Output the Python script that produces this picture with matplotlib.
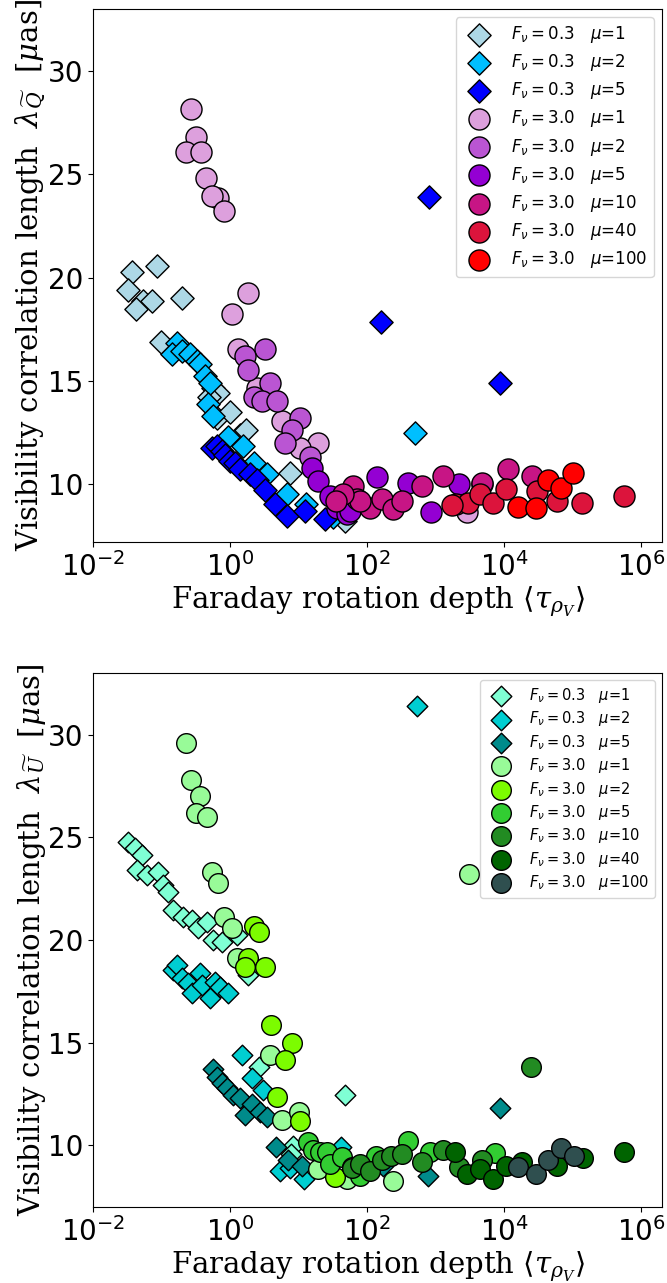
import numpy as np
import matplotlib.pyplot as plt

# --- Configuration ---
OUTPUT_IMAGE = 'out.png'

# --- Top panel data: lambda_Q vs Faraday depth ---
Q_F03_MU1_TAU = [0.037, 0.085, 0.032, 0.054, 0.073, 0.043, 0.2, 0.098, 0.56, 0.67, 0.64, 1.0, 1.4, 0.5, 1.7, 7.5, 48]
Q_F03_MU1_LAM = [20.27, 20.57, 19.4, 18.87, 18.87, 18.5, 19.0, 16.9, 14.66, 14.4, 13.2, 13.5, 12.4, 14.2, 12.6, 10.55, 8.2]

Q_F03_MU2_TAU = [0.17, 0.14, 0.20, 0.26, 0.33, 0.36, 0.43, 0.51, 0.48, 0.56, 0.93, 1.55, 2.2, 3.5, 6.8, 13, 32, 500]
Q_F03_MU2_LAM = [16.84, 16.3, 16.45, 16.3, 15.97, 15.8, 15.24, 14.9, 13.9, 13.3, 12.3, 11.85, 11.0, 10.5, 9.5, 9.05, 8.4, 12.45]

Q_F03_MU5_TAU = [0.55, 0.65, 0.76, 0.85, 1.0, 1.17, 1.4, 1.95, 2.5, 3.2, 4.5, 6.8, 12.4, 24.5, 800, 160, 8700]
Q_F03_MU5_LAM = [11.76, 11.86, 11.6, 11.4, 11.13, 11.0, 10.75, 10.5, 10.2, 9.7, 9.05, 8.47, 8.7, 8.3, 23.9, 17.85, 14.9]

Q_F30_MU1_TAU = [0.27, 0.32, 0.23, 0.38, 0.45, 0.67, 0.55, 0.81, 1.8, 1.07, 1.3, 2.5, 5.7, 19, 10.4, 2900]
Q_F30_MU1_LAM = [28.16, 26.8, 26.1, 26.1, 24.8, 23.86, 23.95, 23.2, 19.26, 18.24, 16.55, 14.66, 13.07, 12.0, 11.76, 8.65]

Q_F30_MU2_TAU = [3.2, 1.66, 1.8, 3.8, 2.2, 2.95, 4.9, 10.5, 8.0, 6.3, 14.8]
Q_F30_MU2_LAM = [16.55, 16.2, 15.5, 14.9, 14.2, 14.0, 14.0, 13.2, 12.6, 12.0, 11.3]

Q_F30_MU5_TAU = [15.8, 19, 29, 36, 51, 141, 400, 2150, 850, 56, 4800]
Q_F30_MU5_LAM = [10.8, 10.17, 9.44, 8.86, 8.57, 10.36, 10.07, 10.0, 8.66, 8.7, 10.0]

Q_F30_MU10_TAU = [63, 71, 110, 165, 240, 79, 325, 630, 1280, 4800, 11500, 25700, 45, 35]
Q_F30_MU10_LAM = [9.9, 9.3, 8.86, 9.3, 8.8, 9.2, 9.2, 9.9, 10.4, 10.07, 10.74, 10.4, 9.5, 9.2]

Q_F30_MU40_TAU = [2000, 3000, 4400, 6900, 10700, 30000, 59000, 138000, 560000, 1700]
Q_F30_MU40_LAM = [9.05, 9.1, 9.5, 9.1, 9.78, 9.68, 9.2, 9.1, 9.44, 9.0]

Q_F30_MU100_TAU = [16000, 29000, 43000, 68000, 100000]
Q_F30_MU100_LAM = [8.9, 8.86, 10.2, 9.8, 10.55]

# --- Bottom panel data: lambda_U vs Faraday depth ---
U_F03_MU1_TAU = [0.032, 0.041, 0.052, 0.044, 0.062, 0.089, 0.105, 0.125, 0.148, 0.205, 0.28, 0.34, 0.46, 0.56,
                 0.76, 1.26, 1.8, 2.6, 48, 8.3, 7.8]
U_F03_MU1_LAM = [24.76, 24.47, 24.13, 23.4, 23.16, 23.3, 22.67, 22.33, 21.45, 21.1, 20.97, 20.6, 20.87, 20.0,
                 19.9, 20.24, 18.3, 13.8, 12.47, 9.95, 9.6]

U_F03_MU2_TAU = [0.148, 0.17, 0.2, 0.245, 0.28, 0.36, 0.39, 0.51, 0.6, 0.71, 0.93, 1.5, 2.1, 3.0, 5.4, 11.8,
                 42, 525, 7.5]
U_F03_MU2_LAM = [18.55, 18.8, 18.15, 17.9, 17.4, 18.4, 17.8, 17.2, 17.96, 17.7, 17.4, 14.42, 13.3, 12.7, 8.74, 8.35,
                 9.9, 31.4, 8.9]

U_F03_MU5_TAU = [0.56, 0.65, 0.76, 0.91, 1.1, 1.4, 1.66, 2.1, 2.75, 3.5, 4.6, 7.1, 11.3, 780, 8700, 170]
U_F03_MU5_LAM = [13.7, 13.35, 13.06, 12.8, 12.47, 12.33, 11.5, 12.0, 11.65, 11.4, 9.9, 9.3, 8.98, 8.5, 11.84, 8.98]

U_F30_MU1_TAU = [0.23, 0.27, 0.36, 0.32, 0.46, 0.55, 0.67, 0.81, 1.07, 1.26, 3.8, 5.7, 10.1, 19, 51, 235, 3100]
U_F30_MU1_LAM = [29.6, 27.8, 27.0, 26.2, 26.0, 23.3, 22.77, 21.1, 20.6, 19.1, 14.42, 11.26, 11.65, 8.83, 8.35, 8.25, 23.2]

U_F30_MU2_TAU = [2.25, 2.6, 1.8, 1.66, 3.2, 4.0, 8.1, 6.3, 4.9, 10.5, 34]
U_F30_MU2_LAM = [20.7, 20.4, 19.1, 18.7, 18.7, 15.87, 15.0, 14.17, 12.38, 11.17, 8.45]

U_F30_MU5_TAU = [13.8, 16, 20.5, 26, 29, 43, 60, 86, 133, 400, 830, 7400, 79]
U_F30_MU5_LAM = [10.15, 9.8, 9.7, 9.7, 9.1, 9.42, 8.93, 8.7, 9.47, 10.2, 9.7, 9.65, 8.5]

U_F30_MU10_TAU = [60, 79, 110, 165, 220, 325, 630, 1290, 2150, 4800, 24500]
U_F30_MU10_LAM = [8.9, 9.1, 8.74, 9.3, 9.47, 9.56, 9.2, 9.8, 8.93, 9.3, 13.84]

U_F30_MU40_TAU = [1900, 2860, 4400, 6900, 10500, 18300, 59000, 140000, 560000]
U_F30_MU40_LAM = [9.66, 8.6, 8.83, 8.35, 8.98, 9.2, 8.98, 9.37, 9.7]

U_F30_MU100_TAU = [16000, 29000, 43000, 68000, 105000]
U_F30_MU100_LAM = [8.93, 8.6, 9.3, 9.85, 9.47]

LABELS = [r'$F_\nu = 0.3$   $\mu$=1', r'$F_\nu = 0.3$   $\mu$=2', r'$F_\nu = 0.3$   $\mu$=5',
          r'$F_\nu = 3.0$   $\mu$=1', r'$F_\nu = 3.0$   $\mu$=2', r'$F_\nu = 3.0$   $\mu$=5',
          r'$F_\nu = 3.0$   $\mu$=10', r'$F_\nu = 3.0$   $\mu$=40', r'$F_\nu = 3.0$   $\mu$=100']
MARKERS = ['D', 'D', 'D', 'o', 'o', 'o', 'o', 'o', 'o']

Q_COLORS = ['lightblue', 'deepskyblue', 'blue', 'plum', 'mediumorchid', 'darkviolet',
            'mediumvioletred', 'crimson', 'red']
U_COLORS = ['aquamarine', 'darkturquoise', 'darkcyan', 'palegreen', 'lawngreen', 'limegreen',
            'forestgreen', 'darkgreen', 'darkslategray']

Q_SERIES = [(Q_F03_MU1_TAU, Q_F03_MU1_LAM), (Q_F03_MU2_TAU, Q_F03_MU2_LAM), (Q_F03_MU5_TAU, Q_F03_MU5_LAM),
            (Q_F30_MU1_TAU, Q_F30_MU1_LAM), (Q_F30_MU2_TAU, Q_F30_MU2_LAM), (Q_F30_MU5_TAU, Q_F30_MU5_LAM),
            (Q_F30_MU10_TAU, Q_F30_MU10_LAM), (Q_F30_MU40_TAU, Q_F30_MU40_LAM), (Q_F30_MU100_TAU, Q_F30_MU100_LAM)]
U_SERIES = [(U_F03_MU1_TAU, U_F03_MU1_LAM), (U_F03_MU2_TAU, U_F03_MU2_LAM), (U_F03_MU5_TAU, U_F03_MU5_LAM),
            (U_F30_MU1_TAU, U_F30_MU1_LAM), (U_F30_MU2_TAU, U_F30_MU2_LAM), (U_F30_MU5_TAU, U_F30_MU5_LAM),
            (U_F30_MU10_TAU, U_F30_MU10_LAM), (U_F30_MU40_TAU, U_F30_MU40_LAM), (U_F30_MU100_TAU, U_F30_MU100_LAM)]


def draw_panel(ax, series, colors, ylabel, s_circle, s_diamond, legend_size, legend_spacing, ylim):
    for (tau, lam), c, m, lab in zip(series, colors, MARKERS, LABELS):
        s = s_diamond if m == 'D' else s_circle
        ax.scatter(tau, lam, s=s, c=c, marker=m, edgecolors='black', linewidths=1.0, label=lab)
    ax.set_xscale('log')
    ax.set_xlim(1e-2, 2e6)
    ax.set_ylim(*ylim)
    ax.set_yticks([10, 15, 20, 25, 30])
    ax.tick_params(axis='both', which='major', labelsize=20)
    ax.set_xlabel(r'Faraday rotation depth $\langle\tau_{\rho_V}\rangle$', fontsize=21, labelpad=2,
                  family='DejaVu Serif', math_fontfamily='dejavuserif')
    ax.set_ylabel(ylabel, fontsize=21, family='DejaVu Serif', math_fontfamily='dejavuserif')
    ax.yaxis.set_label_coords(-0.079, 0.5)
    ax.legend(loc='upper right', fontsize=legend_size, handletextpad=0.9, borderpad=0.4,
              labelspacing=legend_spacing)


fig = plt.figure(figsize=(6.67, 12.83), dpi=100)
ax_q = fig.add_axes([0.1394, 0.5776, 0.8531, 0.4154])
ax_u = fig.add_axes([0.1394, 0.0592, 0.8531, 0.4163])

draw_panel(ax_q, Q_SERIES, Q_COLORS,
           r'Visibility correlation length  $\lambda_{\widetilde{Q}}$  [$\mu$as]',
           230, 140, 12, 0.43, (7.2, 33))
draw_panel(ax_u, U_SERIES, U_COLORS,
           r'Visibility correlation length  $\lambda_{\widetilde{U}}$  [$\mu$as]',
           200, 110, 10.5, 0.3, (7.0, 33))

fig.savefig(OUTPUT_IMAGE, dpi=100)
